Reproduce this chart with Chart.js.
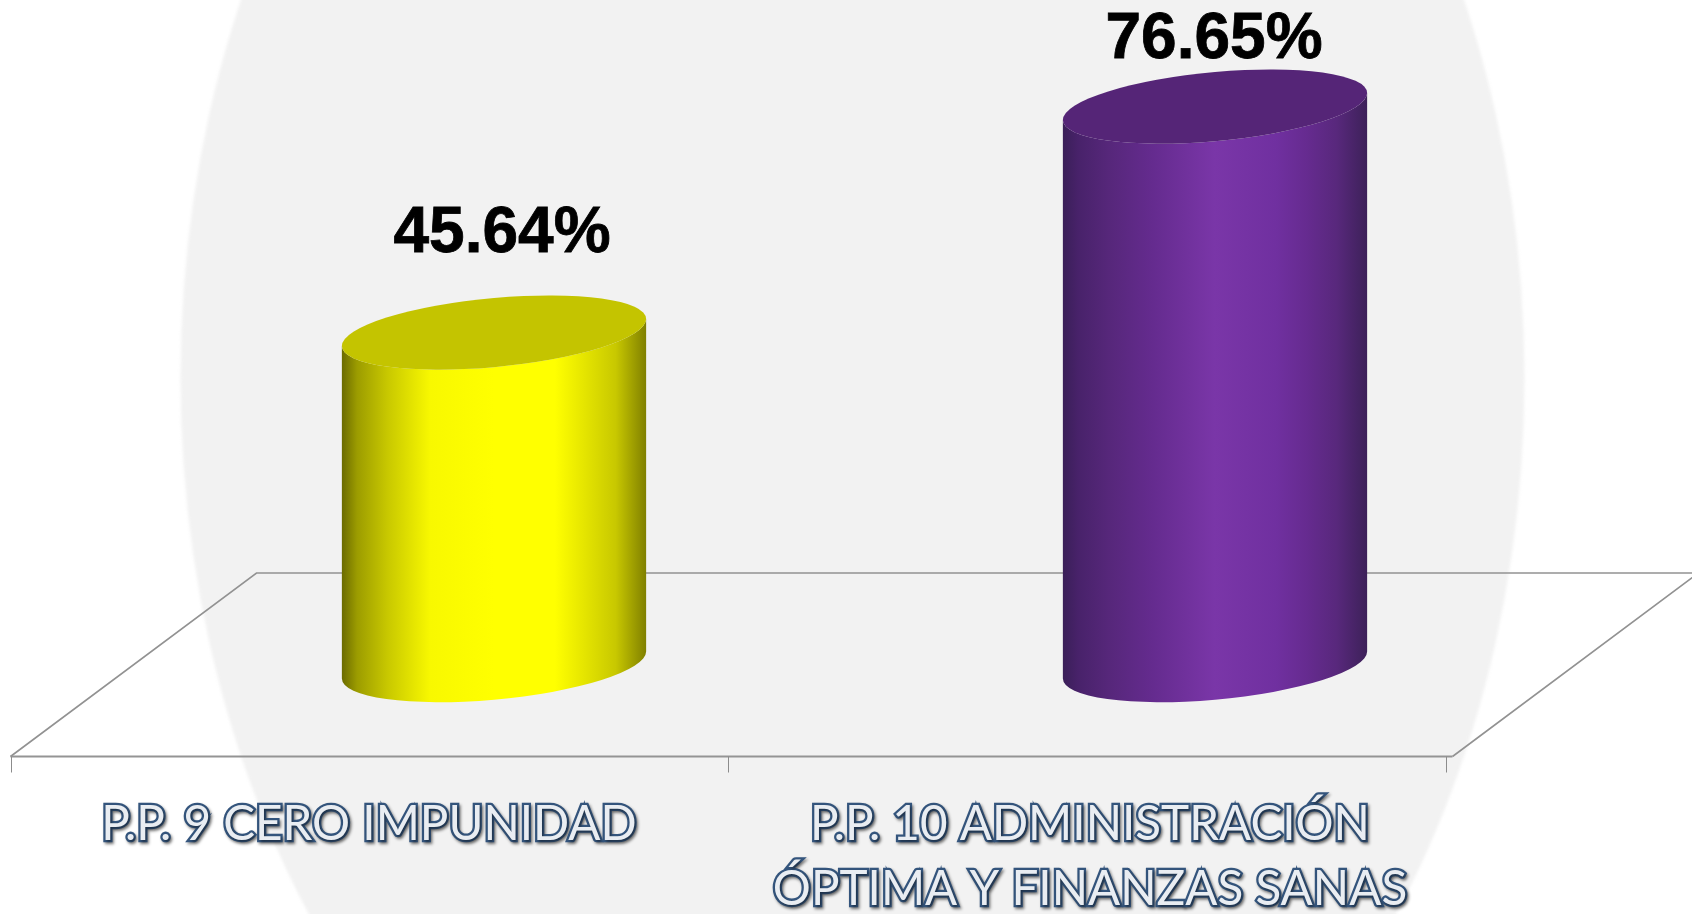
<!DOCTYPE html>
<html lang="es">
<head>
<meta charset="utf-8">
<title>P.P. 9 y P.P. 10</title>
<script src="https://cdn.jsdelivr.net/npm/chart.js@4/dist/chart.umd.js"></script>
<style>html,body{margin:0;padding:0;background:#fff;overflow:hidden}canvas{display:block}</style>
</head>
<body>
<canvas id="c" width="1692" height="914"></canvas>
<script>
const categories = [
  ['P.P. 9 CERO IMPUNIDAD'],
  ['P.P. 10 ADMINISTRACIÓN', 'ÓPTIMA Y FINANZAS SANAS']
];
const seriesName = 'Avance';
const seriesValues = [45.64, 76.65];

const gradientStops = [0, 0.05, 0.15, 0.29, 0.5, 0.7, 0.8, 0.9, 1];
const yellowRamp = ['#6b6b00', '#9c9c00', '#c8c800', '#f8f800', '#ffff00', '#ffff00', '#e4e400', '#c8c800', '#808000'];
const purpleRamp = ['#3a1f58', '#48226a', '#56277a', '#642b8e', '#7a36a8', '#7030a0', '#662b90', '#58287c', '#3d2159'];
const ramps = [yellowRamp, purpleRamp];
const bodyColors = ['#ffff00', '#7030a0'];
const capColors = ['#c4c400', '#552577'];
const labelLift = [98.5, 66];
const labelShift = [8, -1];

const SHEAR = 0.0887, CAP_B = 34.6, DEPTH = 246, FRONT_SHIFT = 124, FRONT_WIDTH = 1435;

class CylinderElement extends Chart.BarElement {
  draw(ctx) {
    const { x, y, base, width } = this;
    const i = this.$context ? this.$context.dataIndex : 0;
    const a = width / 2, H = base - y;
    ctx.save();
    ctx.transform(1, -SHEAR, 0, 1, x, y);
    const g = ctx.createLinearGradient(-a, 0, a, 0);
    gradientStops.forEach((s, k) => g.addColorStop(s, ramps[i][k]));
    ctx.beginPath();
    ctx.moveTo(-a, 0);
    ctx.lineTo(-a, H);
    ctx.ellipse(0, H, a, CAP_B, 0, Math.PI, 0, true);
    ctx.lineTo(a, 0);
    ctx.ellipse(0, 0, a, CAP_B, 0, 0, Math.PI, false);
    ctx.closePath();
    ctx.fillStyle = g;
    ctx.fill();
    ctx.beginPath();
    ctx.ellipse(0, 0, a, CAP_B, 0, 0, Math.PI * 2);
    ctx.fillStyle = capColors[i];
    ctx.fill();
    ctx.restore();
  }
}
CylinderElement.id = 'cylinder';
CylinderElement.defaults = Chart.BarElement.defaults;
CylinderElement.defaultRoutes = Chart.BarElement.defaultRoutes;

class CylinderController extends Chart.BarController {}
CylinderController.id = 'cylinder';
CylinderController.defaults = Object.assign({}, Chart.BarController.defaults, { dataElementType: 'cylinder' });
CylinderController.overrides = Chart.BarController.overrides;
Chart.register(CylinderElement, CylinderController);

const scenery = {
  id: 'scenery',
  beforeDraw(chart) {
    const { ctx, width, height } = chart;
    const xs = chart.scales.x;
    ctx.save();
    ctx.fillStyle = '#ffffff';
    ctx.fillRect(0, 0, width, height);
    ctx.filter = 'blur(1.5px)';
    ctx.fillStyle = '#f2f2f2';
    ctx.beginPath();
    ctx.ellipse(852.5, 378, 672, 912, 0, 0, Math.PI * 2);
    ctx.fill();
    ctx.restore();

    const fl = xs.left - FRONT_SHIFT + 1, fr = fl + FRONT_WIDTH;
    const fy = 756.5, by = 573;
    ctx.save();
    ctx.strokeStyle = '#929292';
    ctx.lineWidth = 1.6;
    ctx.beginPath();
    ctx.moveTo(fl, fy);
    ctx.lineTo(fl + DEPTH, by);
    ctx.lineTo(fr + 7 + DEPTH, by);
    ctx.lineTo(fr + 7, fy);
    ctx.stroke();
    ctx.strokeStyle = '#949494';
    ctx.lineWidth = 2;
    ctx.beginPath();
    ctx.moveTo(fl, fy);
    ctx.lineTo(fr + 7, fy);
    ctx.stroke();
    ctx.strokeStyle = '#8c8c8c';
    ctx.lineWidth = 1;
    ctx.beginPath();
    [fl, (fl + fr) / 2, fr].forEach(tx => {
      ctx.moveTo(Math.round(tx) + 0.5, fy);
      ctx.lineTo(Math.round(tx) + 0.5, fy + 16);
    });
    ctx.stroke();
    ctx.restore();

    ctx.shadowColor = 'rgba(0,0,0,0.45)';
    ctx.shadowBlur = 3;
    ctx.shadowOffsetX = 1.5;
    ctx.shadowOffsetY = 1.5;
  },
  beforeDatasetsDraw(chart) {
    const { ctx } = chart;
    ctx.shadowColor = 'transparent';
    ctx.shadowBlur = 0;
    ctx.shadowOffsetX = 0;
    ctx.shadowOffsetY = 0;
  },
  afterDatasetsDraw(chart) {
    const { ctx } = chart;
    ctx.save();
    ctx.font = 'bold 64px "Liberation Sans", Arial, sans-serif';
    ctx.fillStyle = '#000000';
    ctx.strokeStyle = '#000000';
    ctx.lineWidth = 0.8;
    ctx.textAlign = 'center';
    ctx.textBaseline = 'middle';
    chart.getDatasetMeta(0).data.forEach((el, i) => {
      const t = seriesValues[i].toFixed(2) + '%';
      const ly = el.y - labelLift[i];
      ctx.fillText(t, el.x + labelShift[i], ly);
      ctx.strokeText(t, el.x + labelShift[i], ly);
    });
    ctx.restore();
  }
};

new Chart(document.getElementById('c'), {
  type: 'cylinder',
  data: {
    labels: categories,
    datasets: [{
      label: seriesName,
      data: seriesValues,
      backgroundColor: bodyColors,
      barPercentage: 0.422,
      categoryPercentage: 1,
      clip: false
    }]
  },
  options: {
    responsive: false,
    animation: false,
    events: [],
    layout: { padding: { left: 133.5, right: 116.5, top: 9.3, bottom: 0 } },
    plugins: { legend: { display: false }, tooltip: { enabled: false }, title: { display: false } },
    scales: {
      x: {
        afterFit(s) { s.height = 248.9; },
        grid: { display: false, drawTicks: false },
        border: { display: false },
        ticks: {
          maxRotation: 0,
          autoSkip: false,
          padding: 127.5,
          labelOffset: -FRONT_SHIFT - 1,
          color: '#e9edf2',
          textStrokeColor: '#34557d',
          textStrokeWidth: 4.6,
          font: { family: 'Lato', weight: 'normal', size: 47.6, lineHeight: 1.36 }
        }
      },
      y: { display: false, min: 0, max: 90 }
    }
  },
  plugins: [scenery]
});
</script>
</body>
</html>
